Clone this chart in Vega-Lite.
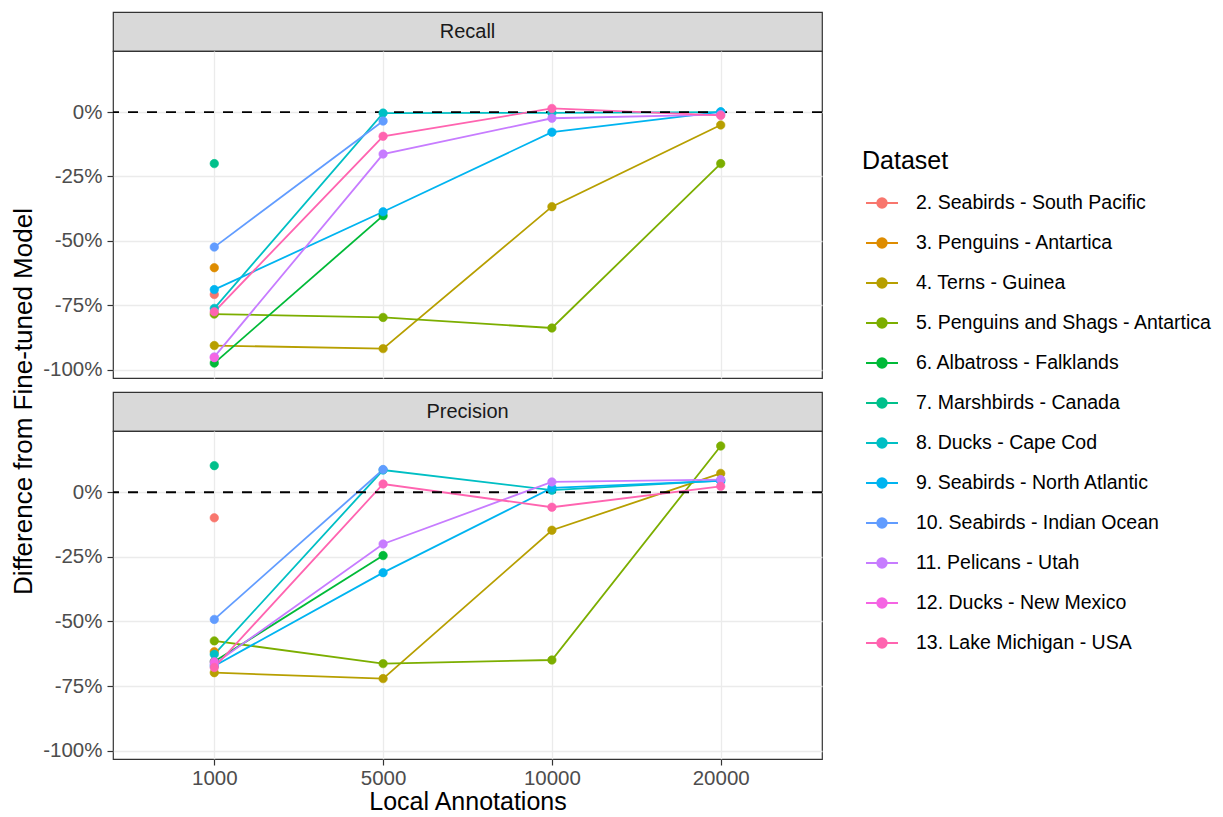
{
  "$schema": "https://vega.github.io/schema/vega-lite/v6.json",
  "padding": {"left": 10, "top": 11, "right": 0, "bottom": 0},
  "background": "white",
  "bounds": "flush",
  "spacing": 0,
  "datasets": {
    "results": [
      {"dataset": "2. Seabirds - South Pacific", "metric": "Recall", "annotations": 1000, "diff": -0.708},
      {"dataset": "3. Penguins - Antartica", "metric": "Recall", "annotations": 1000, "diff": -0.604},
      {"dataset": "4. Terns - Guinea", "metric": "Recall", "annotations": 1000, "diff": -0.906},
      {"dataset": "4. Terns - Guinea", "metric": "Recall", "annotations": 5000, "diff": -0.918},
      {"dataset": "4. Terns - Guinea", "metric": "Recall", "annotations": 10000, "diff": -0.367},
      {"dataset": "4. Terns - Guinea", "metric": "Recall", "annotations": 20000, "diff": -0.05},
      {"dataset": "5. Penguins and Shags - Antartica", "metric": "Recall", "annotations": 1000, "diff": -0.784},
      {"dataset": "5. Penguins and Shags - Antartica", "metric": "Recall", "annotations": 5000, "diff": -0.797},
      {"dataset": "5. Penguins and Shags - Antartica", "metric": "Recall", "annotations": 10000, "diff": -0.838},
      {"dataset": "5. Penguins and Shags - Antartica", "metric": "Recall", "annotations": 20000, "diff": -0.2},
      {"dataset": "6. Albatross - Falklands", "metric": "Recall", "annotations": 1000, "diff": -0.974},
      {"dataset": "6. Albatross - Falklands", "metric": "Recall", "annotations": 5000, "diff": -0.402},
      {"dataset": "7. Marshbirds - Canada", "metric": "Recall", "annotations": 1000, "diff": -0.2},
      {"dataset": "8. Ducks - Cape Cod", "metric": "Recall", "annotations": 1000, "diff": -0.762},
      {"dataset": "8. Ducks - Cape Cod", "metric": "Recall", "annotations": 5000, "diff": -0.004},
      {"dataset": "8. Ducks - Cape Cod", "metric": "Recall", "annotations": 10000, "diff": -0.003},
      {"dataset": "8. Ducks - Cape Cod", "metric": "Recall", "annotations": 20000, "diff": 0.0},
      {"dataset": "9. Seabirds - North Atlantic", "metric": "Recall", "annotations": 1000, "diff": -0.689},
      {"dataset": "9. Seabirds - North Atlantic", "metric": "Recall", "annotations": 5000, "diff": -0.387},
      {"dataset": "9. Seabirds - North Atlantic", "metric": "Recall", "annotations": 10000, "diff": -0.078},
      {"dataset": "9. Seabirds - North Atlantic", "metric": "Recall", "annotations": 20000, "diff": 0.001},
      {"dataset": "10. Seabirds - Indian Ocean", "metric": "Recall", "annotations": 1000, "diff": -0.524},
      {"dataset": "10. Seabirds - Indian Ocean", "metric": "Recall", "annotations": 5000, "diff": -0.035},
      {"dataset": "11. Pelicans - Utah", "metric": "Recall", "annotations": 1000, "diff": -0.95},
      {"dataset": "11. Pelicans - Utah", "metric": "Recall", "annotations": 5000, "diff": -0.163},
      {"dataset": "11. Pelicans - Utah", "metric": "Recall", "annotations": 10000, "diff": -0.024},
      {"dataset": "11. Pelicans - Utah", "metric": "Recall", "annotations": 20000, "diff": -0.01},
      {"dataset": "12. Ducks - New Mexico", "metric": "Recall", "annotations": 1000, "diff": -0.953},
      {"dataset": "13. Lake Michigan - USA", "metric": "Recall", "annotations": 1000, "diff": -0.775},
      {"dataset": "13. Lake Michigan - USA", "metric": "Recall", "annotations": 5000, "diff": -0.094},
      {"dataset": "13. Lake Michigan - USA", "metric": "Recall", "annotations": 10000, "diff": 0.014},
      {"dataset": "13. Lake Michigan - USA", "metric": "Recall", "annotations": 20000, "diff": -0.013},
      {"dataset": "2. Seabirds - South Pacific", "metric": "Precision", "annotations": 1000, "diff": -0.099},
      {"dataset": "3. Penguins - Antartica", "metric": "Precision", "annotations": 1000, "diff": -0.617},
      {"dataset": "4. Terns - Guinea", "metric": "Precision", "annotations": 1000, "diff": -0.698},
      {"dataset": "4. Terns - Guinea", "metric": "Precision", "annotations": 5000, "diff": -0.721},
      {"dataset": "4. Terns - Guinea", "metric": "Precision", "annotations": 10000, "diff": -0.147},
      {"dataset": "4. Terns - Guinea", "metric": "Precision", "annotations": 20000, "diff": 0.073},
      {"dataset": "5. Penguins and Shags - Antartica", "metric": "Precision", "annotations": 1000, "diff": -0.575},
      {"dataset": "5. Penguins and Shags - Antartica", "metric": "Precision", "annotations": 5000, "diff": -0.663},
      {"dataset": "5. Penguins and Shags - Antartica", "metric": "Precision", "annotations": 10000, "diff": -0.649},
      {"dataset": "5. Penguins and Shags - Antartica", "metric": "Precision", "annotations": 20000, "diff": 0.179},
      {"dataset": "6. Albatross - Falklands", "metric": "Precision", "annotations": 1000, "diff": -0.655},
      {"dataset": "6. Albatross - Falklands", "metric": "Precision", "annotations": 5000, "diff": -0.245},
      {"dataset": "7. Marshbirds - Canada", "metric": "Precision", "annotations": 1000, "diff": 0.103},
      {"dataset": "8. Ducks - Cape Cod", "metric": "Precision", "annotations": 1000, "diff": -0.627},
      {"dataset": "8. Ducks - Cape Cod", "metric": "Precision", "annotations": 5000, "diff": 0.086},
      {"dataset": "8. Ducks - Cape Cod", "metric": "Precision", "annotations": 10000, "diff": 0.008},
      {"dataset": "8. Ducks - Cape Cod", "metric": "Precision", "annotations": 20000, "diff": 0.045},
      {"dataset": "9. Seabirds - North Atlantic", "metric": "Precision", "annotations": 1000, "diff": -0.672},
      {"dataset": "9. Seabirds - North Atlantic", "metric": "Precision", "annotations": 5000, "diff": -0.311},
      {"dataset": "9. Seabirds - North Atlantic", "metric": "Precision", "annotations": 10000, "diff": 0.017},
      {"dataset": "9. Seabirds - North Atlantic", "metric": "Precision", "annotations": 20000, "diff": 0.044},
      {"dataset": "10. Seabirds - Indian Ocean", "metric": "Precision", "annotations": 1000, "diff": -0.492},
      {"dataset": "10. Seabirds - Indian Ocean", "metric": "Precision", "annotations": 5000, "diff": 0.088},
      {"dataset": "11. Pelicans - Utah", "metric": "Precision", "annotations": 1000, "diff": -0.665},
      {"dataset": "11. Pelicans - Utah", "metric": "Precision", "annotations": 5000, "diff": -0.2},
      {"dataset": "11. Pelicans - Utah", "metric": "Precision", "annotations": 10000, "diff": 0.04},
      {"dataset": "11. Pelicans - Utah", "metric": "Precision", "annotations": 20000, "diff": 0.049},
      {"dataset": "12. Ducks - New Mexico", "metric": "Precision", "annotations": 1000, "diff": -0.656},
      {"dataset": "13. Lake Michigan - USA", "metric": "Precision", "annotations": 1000, "diff": -0.678},
      {"dataset": "13. Lake Michigan - USA", "metric": "Precision", "annotations": 5000, "diff": 0.032},
      {"dataset": "13. Lake Michigan - USA", "metric": "Precision", "annotations": 10000, "diff": -0.058},
      {"dataset": "13. Lake Michigan - USA", "metric": "Precision", "annotations": 20000, "diff": 0.023}
    ]
  },
  "vconcat": [
    {
      "width": 709, "height": 39,
      "view": {"fill": "#D9D9D9", "stroke": "#333333", "strokeWidth": 1.2},
      "data": {"values": [{"panel": "Recall"}]},
      "mark": {"type": "text", "fontSize": 20, "color": "#1A1A1A"},
      "encoding": {"text": {"field": "panel", "type": "nominal"}}
    },
    {
      "width": 709, "height": 327,
      "view": {"fill": "white", "stroke": "#333333", "strokeWidth": 1.2},
      "data": {"name": "results"},
      "transform": [{"filter": "datum.metric == 'Recall'"}],
      "layer": [
        {
          "mark": {"type": "line", "strokeWidth": 1.8},
          "encoding": {
            "x": {"field": "annotations", "type": "ordinal", "scale": {"type": "point", "domain": [1000, 5000, 10000, 20000], "padding": 0.6},
              "axis": {"labels": false, "ticks": false, "domain": false, "title": null, "grid": true, "gridColor": "#EBEBEB", "gridWidth": 1.3}},
            "y": {"field": "diff", "type": "quantitative", "scale": {"domain": [-1.032, 0.237], "nice": false, "zero": false},
              "axis": {
                "values": [-1, -0.875, -0.75, -0.625, -0.5, -0.375, -0.25, -0.125, 0, 0.125],
                "labelExpr": "abs(datum.value*4 - round(datum.value*4)) < 0.01 ? round(datum.value*100) + '%' : ''",
                "domain": false, "tickSize": 6, "tickWidth": 1.2,
                "tickColor": {"condition": {"test": "abs(datum.value*4 - round(datum.value*4)) < 0.01", "value": "#333333"}, "value": "transparent"},
                "gridColor": {"condition": {"test": "abs(datum.value*4 - round(datum.value*4)) < 0.01", "value": "#EBEBEB"}, "value": "#EFEFEF"},
                "gridWidth": {"condition": {"test": "abs(datum.value*4 - round(datum.value*4)) < 0.01", "value": 1.3}, "value": 0.8},
                "labelFontSize": 20.5, "labelColor": "#4D4D4D", "labelPadding": 5,
                "title": "Difference from Fine-tuned Model", "titleFontSize": 26, "titleFontWeight": "normal", "titleColor": "black",
                "titlePadding": 6, "titleY": 350
              }},
            "stroke": {"field": "dataset", "type": "nominal",
              "scale": {"domain": ["2. Seabirds - South Pacific", "3. Penguins - Antartica", "4. Terns - Guinea", "5. Penguins and Shags - Antartica", "6. Albatross - Falklands", "7. Marshbirds - Canada", "8. Ducks - Cape Cod", "9. Seabirds - North Atlantic", "10. Seabirds - Indian Ocean", "11. Pelicans - Utah", "12. Ducks - New Mexico", "13. Lake Michigan - USA"],
                "range": ["#F8766D", "#DE8C00", "#B79F00", "#7CAE00", "#00BA38", "#00C08B", "#00BFC4", "#00B4F0", "#619CFF", "#C77CFF", "#F564E3", "#FF64B0"]},
              "legend": {"title": "Dataset", "orient": "none", "legendX": 749, "legendY": 137}}
          }
        },
        {
          "data": {"values": [{}]},
          "mark": {"type": "rule", "strokeDash": [10, 9], "strokeWidth": 1.8, "color": "black"},
          "encoding": {"y": {"datum": 0, "type": "quantitative"}}
        },
        {
          "mark": {"type": "point", "filled": true, "size": 72, "opacity": 1, "strokeWidth": 0.6},
          "encoding": {
            "x": {"field": "annotations", "type": "ordinal"},
            "y": {"field": "diff", "type": "quantitative"},
            "fill": {"field": "dataset", "type": "nominal",
              "scale": {"domain": ["2. Seabirds - South Pacific", "3. Penguins - Antartica", "4. Terns - Guinea", "5. Penguins and Shags - Antartica", "6. Albatross - Falklands", "7. Marshbirds - Canada", "8. Ducks - Cape Cod", "9. Seabirds - North Atlantic", "10. Seabirds - Indian Ocean", "11. Pelicans - Utah", "12. Ducks - New Mexico", "13. Lake Michigan - USA"],
                "range": ["#F8766D", "#DE8C00", "#B79F00", "#7CAE00", "#00BA38", "#00C08B", "#00BFC4", "#00B4F0", "#619CFF", "#C77CFF", "#F564E3", "#FF64B0"]},
              "legend": {"title": "Dataset", "orient": "none", "legendX": 749, "legendY": 137}},
            "stroke": {"field": "dataset", "type": "nominal",
              "legend": {"title": "Dataset", "orient": "none", "legendX": 749, "legendY": 137}}
          }
        }
      ]
    },
    {
      "width": 709, "height": 14,
      "view": {"stroke": null, "fill": null},
      "data": {"values": [{}]},
      "mark": {"type": "text"},
      "encoding": {"text": {"value": ""}}
    },
    {
      "width": 709, "height": 39,
      "view": {"fill": "#D9D9D9", "stroke": "#333333", "strokeWidth": 1.2},
      "data": {"values": [{"panel": "Precision"}]},
      "mark": {"type": "text", "fontSize": 20, "color": "#1A1A1A"},
      "encoding": {"text": {"field": "panel", "type": "nominal"}}
    },
    {
      "width": 709, "height": 328,
      "view": {"fill": "white", "stroke": "#333333", "strokeWidth": 1.2},
      "data": {"name": "results"},
      "transform": [{"filter": "datum.metric == 'Precision'"}],
      "layer": [
        {
          "mark": {"type": "line", "strokeWidth": 1.8},
          "encoding": {
            "x": {"field": "annotations", "type": "ordinal", "scale": {"type": "point", "domain": [1000, 5000, 10000, 20000], "padding": 0.6},
              "axis": {"labelAngle": 0, "labelFontSize": 20.5, "labelColor": "#4D4D4D", "labelPadding": 3, "tickSize": 6, "tickWidth": 1.2, "tickColor": "#333333", "domain": false,
                "title": "Local Annotations", "titleFontSize": 25, "titleFontWeight": "normal", "titleColor": "black", "titlePadding": 1,
                "grid": true, "gridColor": "#EBEBEB", "gridWidth": 1.3}},
            "y": {"field": "diff", "type": "quantitative", "scale": {"domain": [-1.032, 0.237], "nice": false, "zero": false},
              "axis": {
                "values": [-1, -0.875, -0.75, -0.625, -0.5, -0.375, -0.25, -0.125, 0, 0.125],
                "labelExpr": "abs(datum.value*4 - round(datum.value*4)) < 0.01 ? round(datum.value*100) + '%' : ''",
                "domain": false, "tickSize": 6, "tickWidth": 1.2,
                "tickColor": {"condition": {"test": "abs(datum.value*4 - round(datum.value*4)) < 0.01", "value": "#333333"}, "value": "transparent"},
                "gridColor": {"condition": {"test": "abs(datum.value*4 - round(datum.value*4)) < 0.01", "value": "#EBEBEB"}, "value": "#EFEFEF"},
                "gridWidth": {"condition": {"test": "abs(datum.value*4 - round(datum.value*4)) < 0.01", "value": 1.3}, "value": 0.8},
                "labelFontSize": 20.5, "labelColor": "#4D4D4D", "labelPadding": 5,
                "title": null
              }},
            "stroke": {"field": "dataset", "type": "nominal",
              "legend": {"title": "Dataset", "orient": "none", "legendX": 749, "legendY": 137}}
          }
        },
        {
          "data": {"values": [{}]},
          "mark": {"type": "rule", "strokeDash": [10, 9], "strokeWidth": 1.8, "color": "black"},
          "encoding": {"y": {"datum": 0, "type": "quantitative"}}
        },
        {
          "mark": {"type": "point", "filled": true, "size": 72, "opacity": 1, "strokeWidth": 0.6},
          "encoding": {
            "x": {"field": "annotations", "type": "ordinal"},
            "y": {"field": "diff", "type": "quantitative"},
            "fill": {"field": "dataset", "type": "nominal",
              "legend": {"title": "Dataset", "orient": "none", "legendX": 749, "legendY": 137}},
            "stroke": {"field": "dataset", "type": "nominal",
              "legend": {"title": "Dataset", "orient": "none", "legendX": 749, "legendY": 137}}
          }
        }
      ]
    }
  ],
  "resolve": {"scale": {"fill": "shared", "stroke": "shared"}},
  "config": {
    "font": "Liberation Sans",
    "legend": {
      "titleFontSize": 25, "titleFontWeight": "normal", "titleColor": "black", "titlePadding": 12,
      "labelFontSize": 19.5, "labelColor": "black", "labelOffset": 17, "labelLimit": 400,
      "symbolType": "M-1,0L1,0M-0.3,0A0.3,0.3,0,1,0,0.3,0A0.3,0.3,0,1,0,-0.3,0Z",
      "symbolSize": 1024, "symbolStrokeWidth": 1.8, "symbolOffset": 3,
      "symbolFillColor": "#888888", "symbolStrokeColor": "#888888", "symbolOpacity": 1,
      "rowPadding": 13, "padding": 0
    }
  }
}
